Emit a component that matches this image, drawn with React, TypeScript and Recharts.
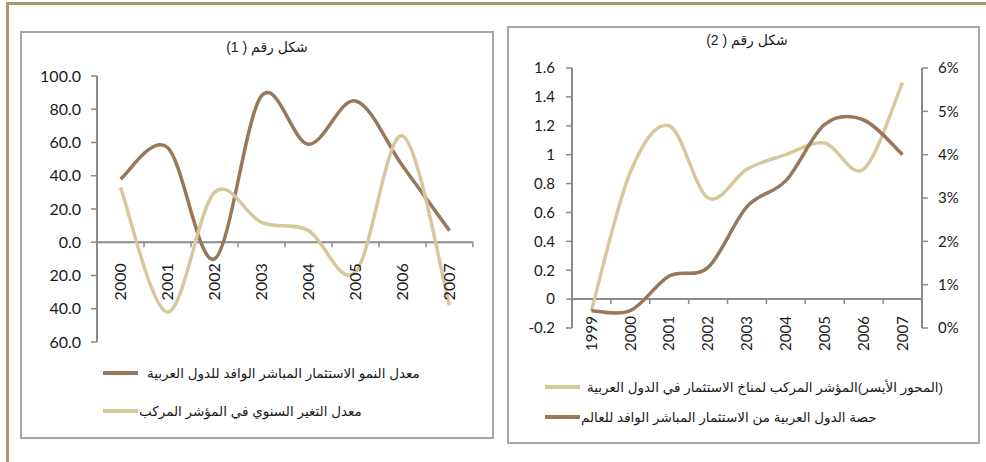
import { Line, LineChart, ReferenceLine, XAxis, YAxis } from "recharts";

// chart 1
const YEARS_1 = ["2000", "2001", "2002", "2003", "2004", "2005", "2006", "2007"];
const FDI_GROWTH = [38, 57, -10, 88, 59, 85, 46, 7];
const INDEX_CHANGE = [33, -42, 30, 12, 7, -18, 64, -38];
const TICKS_1 = [100, 80, 60, 40, 20, 0, -20, -40, -60];

// chart 2
const YEARS_2 = ["1999", "2000", "2001", "2002", "2003", "2004", "2005", "2006", "2007"];
const CLIMATE_INDEX = [-0.08, 0.88, 1.2, 0.7, 0.9, 1.0, 1.08, 0.9, 1.5];
const WORLD_SHARE = [0.004, 0.004, 0.012, 0.014, 0.028, 0.034, 0.047, 0.048, 0.04];
const TICKS_L2 = [1.6, 1.4, 1.2, 1, 0.8, 0.6, 0.4, 0.2, 0, -0.2];
const TICKS_R2 = [0, 0.01, 0.02, 0.03, 0.04, 0.05, 0.06];

const TITLE_1 = "شكل رقم ( 1)";
const TITLE_2 = "شكل رقم ( 2)";
const NAME_GROWTH = "معدل النمو الاستثمار المباشر الوافد للدول العربية";
const NAME_CHANGE = "معدل التغير السنوي في المؤشر المركب";
const NAME_INDEX = "(المحور الأيسر)المؤشر المركب لمناخ الاستثمار في الدول العربية";
const NAME_SHARE = "حصة الدول العربية من الاستثمار المباشر الوافد للعالم";

const DARK = "#98775a";
const LIGHT = "#d7c79d";
const GOLD = "#a89968";
const FRAME = "#a6a6a6";
const AXIS = "#8a8a8a";
const INK = "#1a1a1a";
const NUM_FONT = "Lato, 'Open sans', sans-serif";
const AR_FONT = "Arial, 'Liberation Sans', 'DejaVu Sans', sans-serif";

const chart1Data = YEARS_1.map((year, i) => ({ year, growth: FDI_GROWTH[i], change: INDEX_CHANGE[i] }));
const chart2Data = YEARS_2.map((year, i) => ({ year, index: CLIMATE_INDEX[i], share: WORLD_SHARE[i] }));

// excel-style smoothed line (catmull-rom as bezier)
const excelSmooth = (context: any) => {
  let pts: number[][] = [];
  return {
    areaStart() {},
    areaEnd() {},
    lineStart() {
      pts = [];
    },
    point(x: number, y: number) {
      pts.push([+x, +y]);
    },
    lineEnd() {
      const n = pts.length;
      if (!n) return;
      context.moveTo(pts[0][0], pts[0][1]);
      for (let i = 0; i < n - 1; i++) {
        const p0 = pts[Math.max(i - 1, 0)];
        const p1 = pts[i];
        const p2 = pts[i + 1];
        const p3 = pts[Math.min(i + 2, n - 1)];
        context.bezierCurveTo(
          p1[0] + (p2[0] - p0[0]) / 6,
          p1[1] + (p2[1] - p0[1]) / 6,
          p2[0] - (p3[0] - p1[0]) / 6,
          p2[1] - (p3[1] - p1[1]) / 6,
          p2[0],
          p2[1]
        );
      }
    },
  };
};

// year labels hang under the zero line, not under the plot
function YearTick(props: any) {
  const { x, y, payload, lift, band, gap, fontSize } = props;
  const y0 = y - lift;
  return (
    <g>
      <line x1={x + band / 2} x2={x + band / 2} y1={y0} y2={y0 + 5} stroke={AXIS} strokeWidth={1.5} />
      <text
        transform={`translate(${x},${y0 + gap}) rotate(-90)`}
        textAnchor="end"
        dy="0.35em"
        fill={INK}
        fontSize={fontSize}
        fontFamily={NUM_FONT}
      >
        {payload.value}
      </text>
    </g>
  );
}

function LegendRows({ items, left, top, rowGap, fontSize }: any) {
  return (
    <div style={{ position: "absolute", left, top, fontFamily: AR_FONT, fontSize, color: INK }}>
      {items.map((it: any, i: number) => (
        <div key={i} style={{ display: "flex", alignItems: "center", height: rowGap }}>
          <div style={{ width: 35, height: 4, background: it.color, marginRight: it.gap }} />
          <span dir="rtl" style={{ whiteSpace: "nowrap" }}>
            {it.name}
          </span>
        </div>
      ))}
    </div>
  );
}

const box = (left: number, top: number, width: number, height: number) => ({
  position: "absolute" as const,
  left,
  top,
  width,
  height,
  border: `2px solid ${FRAME}`,
  boxSizing: "border-box" as const,
});

// plot geometry
const P1 = { h: 266, w: 376 };
const P2 = { h: 260, w: 350 };
const BAND_1 = P1.w / YEARS_1.length;
const BAND_2 = P2.w / YEARS_2.length;

export default function App() {
  return (
    <div style={{ position: "absolute", left: 0, top: 0, width: 986, height: 462, background: "#fff", overflow: "hidden" }}>
      <div style={{ position: "absolute", left: 6, top: 2, width: 980, height: 3, background: GOLD }} />
      <div style={{ position: "absolute", left: 6, top: 2, width: 3, height: 460, background: GOLD }} />

      <div style={box(20, 31, 474, 408)} />
      <div style={box(507, 26, 473, 418)} />

      <div dir="rtl" style={{ position: "absolute", left: 187, top: 39, width: 160, textAlign: "center", fontFamily: AR_FONT, fontSize: 14, color: INK }}>
        {TITLE_1}
      </div>
      <div dir="rtl" style={{ position: "absolute", left: 667, top: 32, width: 160, textAlign: "center", fontFamily: AR_FONT, fontSize: 14, color: INK }}>
        {TITLE_2}
      </div>

      <div style={{ position: "absolute", left: 21, top: 32 }}>
        <LineChart width={472} height={406} data={chart1Data} margin={{ top: 44, right: 20, bottom: 95, left: 16 }}>
          <XAxis
            dataKey="year"
            height={1}
            padding={{ left: BAND_1 / 2, right: BAND_1 / 2 }}
            axisLine={false}
            tickLine={false}
            tickSize={0}
            tickMargin={0}
            interval={0}
            tick={<YearTick lift={(P1.h * 60) / 160} band={BAND_1} gap={21} fontSize={16} />}
          />
          <YAxis
            width={60}
            domain={[-60, 100]}
            ticks={TICKS_1}
            interval={0}
            tickFormatter={(v: number) => Math.abs(v).toFixed(1)}
            axisLine={{ stroke: AXIS, strokeWidth: 2 }}
            tickLine={{ stroke: AXIS, strokeWidth: 1.5 }}
            tickSize={6}
            tickMargin={10}
            tick={{ fill: INK, fontSize: 16, fontFamily: NUM_FONT }}
          />
          <ReferenceLine y={0} stroke={AXIS} strokeWidth={2} />
          <Line dataKey="growth" type={excelSmooth as any} stroke={DARK} strokeWidth={3.5} dot={false} isAnimationActive={false} />
          <Line dataKey="change" type={excelSmooth as any} stroke={LIGHT} strokeWidth={3.5} dot={false} isAnimationActive={false} />
        </LineChart>
      </div>

      <div style={{ position: "absolute", left: 508, top: 27 }}>
        <LineChart width={471} height={416} data={chart2Data} margin={{ top: 41, right: 7, bottom: 114, left: 14 }}>
          <XAxis
            dataKey="year"
            height={1}
            padding={{ left: BAND_2 / 2, right: BAND_2 / 2 }}
            axisLine={false}
            tickLine={false}
            tickSize={0}
            tickMargin={0}
            interval={0}
            tick={<YearTick lift={(P2.h * 0.2) / 1.8} band={BAND_2} gap={17} fontSize={15} />}
          />
          <YAxis
            yAxisId="left"
            width={50}
            domain={[-0.2, 1.6]}
            ticks={TICKS_L2}
            interval={0}
            tickFormatter={(v: number) => String(Math.round(v * 10) / 10)}
            axisLine={{ stroke: AXIS, strokeWidth: 2 }}
            tickLine={{ stroke: AXIS, strokeWidth: 1.5 }}
            tickSize={6}
            tickMargin={11}
            tick={{ fill: INK, fontSize: 15, fontFamily: NUM_FONT }}
          />
          <YAxis
            yAxisId="right"
            orientation="right"
            width={50}
            domain={[0, 0.06]}
            ticks={TICKS_R2}
            interval={0}
            tickFormatter={(v: number) => `${Math.round(v * 100)}%`}
            axisLine={{ stroke: AXIS, strokeWidth: 2 }}
            tickLine={{ stroke: AXIS, strokeWidth: 1.5 }}
            tickSize={6}
            tickMargin={10}
            tick={{ fill: INK, fontSize: 15, fontFamily: NUM_FONT }}
          />
          <ReferenceLine yAxisId="left" y={0} stroke={AXIS} strokeWidth={2} />
          <Line yAxisId="left" dataKey="index" type={excelSmooth as any} stroke={LIGHT} strokeWidth={3.5} dot={false} isAnimationActive={false} />
          <Line yAxisId="right" dataKey="share" type={excelSmooth as any} stroke={DARK} strokeWidth={3.5} dot={false} isAnimationActive={false} />
        </LineChart>
      </div>

      <LegendRows
        left={103}
        top={354}
        rowGap={38}
        fontSize={13.5}
        items={[
          { name: NAME_GROWTH, color: DARK, gap: 9 },
          { name: NAME_CHANGE, color: LIGHT, gap: 1 },
        ]}
      />
      <LegendRows
        left={545}
        top={372}
        rowGap={30}
        fontSize={13.5}
        items={[
          { name: NAME_INDEX, color: LIGHT, gap: 7 },
          { name: NAME_SHARE, color: DARK, gap: 1 },
        ]}
      />
    </div>
  );
}
